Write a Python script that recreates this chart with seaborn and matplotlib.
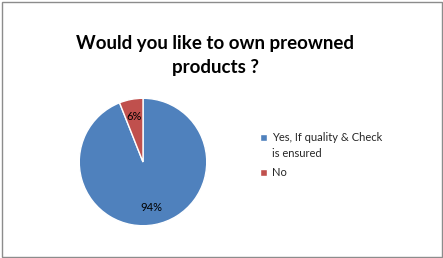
import matplotlib
matplotlib.use("Agg")
import matplotlib.pyplot as plt
import seaborn as sns
from matplotlib.patches import Rectangle
from matplotlib.legend_handler import HandlerPatch

categories = ["Yes, If quality & Check\nis ensured", "No"]
values = [94, 6]
colors = ["#4F81BD", "#C0504D"]
title = "Would you like to own preowned\nproducts ?"

sns.set_theme(style="white")
plt.rcParams['font.family'] = ['Lato', 'DejaVu Sans']

W, H = 443, 258
fig = plt.figure(figsize=(W/100, H/100), dpi=100)
fig.patch.set_facecolor("white")
fig.add_artist(Rectangle((1.5/W, 1.5/H), 1-3/W, 1-3/H, transform=fig.transFigure,
                         fill=False, edgecolor="#8c8c8c", linewidth=1))

cx, cy, r = 143, 162, 65
ax = fig.add_axes([(cx-r)/W, (H-cy-r)/H, 2*r/W, 2*r/H])
wedges, texts, autotexts = ax.pie(values, colors=colors, startangle=90, counterclock=False,
                                  autopct=lambda p: f"{p:.0f}%", pctdistance=0.72,
                                  wedgeprops=dict(edgecolor="white", linewidth=1),
                                  textprops=dict(fontsize=8, color="#000000"))
ax.set_xlim(-1.02, 1.02)
ax.set_ylim(-1.02, 1.02)
ax.set_aspect("equal")

fig.text(215/W, 1-35/H, title, ha="center", va="top", fontsize=13.5, fontweight="bold",
         linespacing=1.5, color="#000000")


def square(shift):
    def f(legend, orig_handle, xdescent, ydescent, width, height, fontsize):
        return Rectangle((-xdescent, -ydescent + shift), width, height)
    return f


handler_map = {wedges[0]: HandlerPatch(patch_func=square(6.0)),
               wedges[1]: HandlerPatch(patch_func=square(0.0))}
leg = fig.legend(wedges, categories, loc="upper left", bbox_to_anchor=(250/W, 1-122/H),
                 frameon=False, fontsize=8, handlelength=0.6, handleheight=0.6,
                 handletextpad=0.5, labelspacing=0.7, handler_map=handler_map)
for t in leg.get_texts():
    t.set_linespacing(1.6)
fig.savefig("out.png", dpi=100)
